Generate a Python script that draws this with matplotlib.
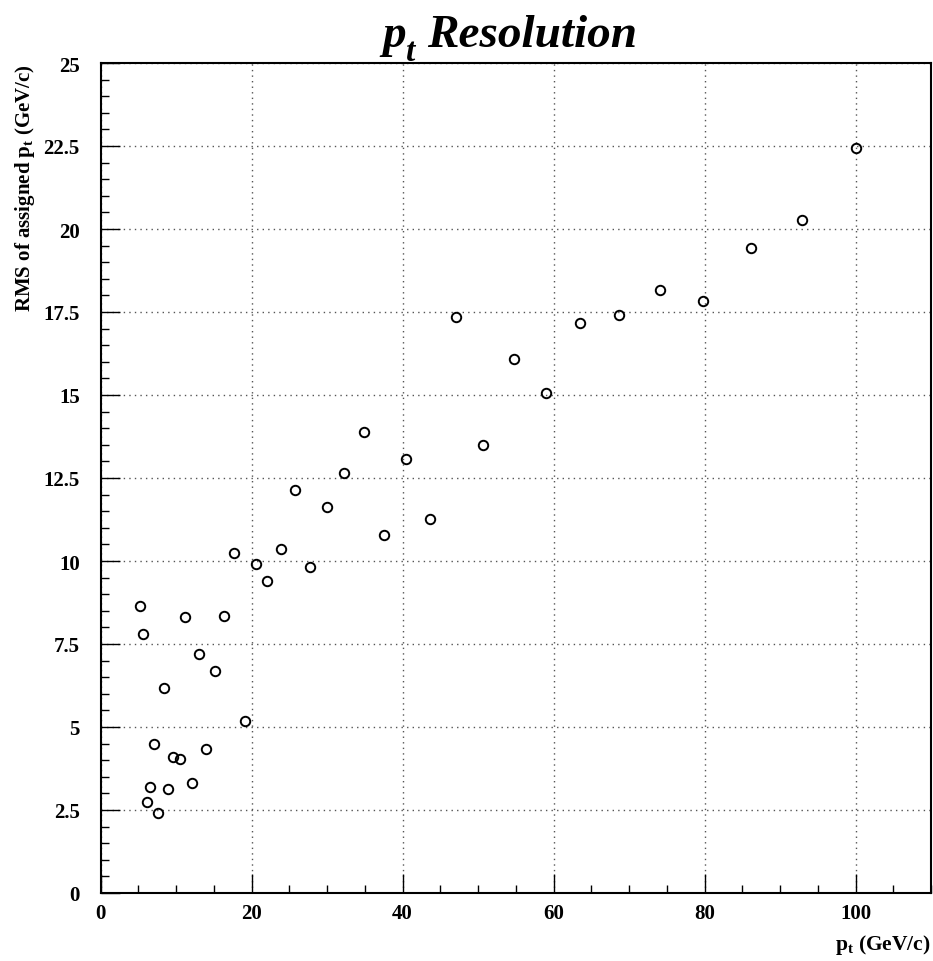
import matplotlib
matplotlib.use("Agg")
import matplotlib.pyplot as plt
from matplotlib.ticker import MultipleLocator, FormatStrFormatter

# Transverse momentum of the bin (GeV/c) and RMS of the assigned pt (GeV/c)
pt = [5.25, 5.69, 6.18, 6.54, 7.1, 7.64, 8.4, 8.88, 9.63, 10.5,
      11.2, 12.1, 13.1, 14.0, 15.2, 16.4, 17.7, 19.1, 20.6, 22.1,
      23.9, 25.7, 27.8, 29.97, 32.3, 34.9, 37.5, 40.5, 43.6, 47.15,
      50.7, 54.8, 59.0, 63.5, 68.7, 74.1, 79.8, 86.1, 92.9, 100.1]
rms = [8.63, 7.80, 2.74, 3.18, 4.49, 2.41, 6.17, 3.12, 4.09, 4.05,
       8.30, 3.32, 7.20, 4.33, 6.69, 8.34, 10.23, 5.19, 9.91, 9.39,
       10.35, 12.14, 9.83, 11.64, 12.66, 13.89, 10.79, 13.06, 11.26, 17.34,
       13.48, 16.09, 15.05, 17.16, 17.42, 18.16, 17.83, 19.43, 20.28, 22.44]

plt.rcParams['font.family'] = ['Liberation Serif', 'DejaVu Serif']
plt.rcParams['font.weight'] = 'bold'
plt.rcParams['mathtext.fontset'] = 'custom'
plt.rcParams['mathtext.rm'] = 'Liberation Serif:bold'
plt.rcParams['mathtext.bf'] = 'Liberation Serif:bold'
plt.rcParams['mathtext.it'] = 'Liberation Serif:italic:bold'

W, H = 933, 962
fig = plt.figure(figsize=(W / 100, H / 100), dpi=100)
x0, x1, y0, y1 = 100.5, 931, 64, 894
ax = fig.add_axes([x0 / W, 1 - y1 / H, (x1 - x0) / W, (y1 - y0) / H])

ax.plot(pt, rms, linestyle='none', marker='o', markersize=6.8,
        markerfacecolor='none', markeredgecolor='black', markeredgewidth=1.4)

ax.set_xlim(0, 110)
ax.set_ylim(0, 25)
ax.xaxis.set_major_locator(MultipleLocator(20))
ax.xaxis.set_minor_locator(MultipleLocator(5))
ax.yaxis.set_major_locator(MultipleLocator(2.5))
ax.yaxis.set_minor_locator(MultipleLocator(0.5))
ax.yaxis.set_major_formatter(FormatStrFormatter('%g'))
ax.xaxis.set_major_formatter(FormatStrFormatter('%g'))

ax.tick_params(which='both', direction='in', top=False, right=False,
               labelsize=15, width=1.0, colors='black')
ax.tick_params(which='major', length=14)
ax.tick_params(which='minor', length=6)
ax.tick_params(axis='y', which='major', pad=15)
ax.tick_params(axis='x', which='major', pad=7)
for lab in ax.get_xticklabels() + ax.get_yticklabels():
    lab.set_fontweight('bold')

ax.grid(True, which='major', linestyle=(0, (1, 3)), color='#555555', linewidth=1.0)
for s in ax.spines.values():
    s.set_linewidth(1.5)

ax.set_xlabel(r'$\mathrm{p_t}$ (GeV/c)', fontsize=15.5, fontweight='bold',
              ha='right', va='baseline')
ax.xaxis.set_label_coords(1.0, -(950 - y1) / (y1 - y0))
ax.set_ylabel(r'RMS of assigned $\mathrm{p_t}$ (GeV/c)', fontsize=15,
              fontweight='bold', ha='right', va='center')
ax.yaxis.set_label_coords(-(x0 - 25) / (x1 - x0), 1.0)

# Title: italic p with a lowered subscript t, then the word
title_kw = dict(fontweight='bold', fontstyle='italic', va='baseline', ha='left')
fig.text(382 / W, 1 - 47 / H, 'p', fontsize=34, **title_kw)
fig.text(406 / W, 1 - 61 / H, 't', fontsize=24, **title_kw)
fig.text(427 / W, 1 - 47 / H, 'Resolution', fontsize=34, **title_kw)

fig.savefig('out.png', dpi=100)
